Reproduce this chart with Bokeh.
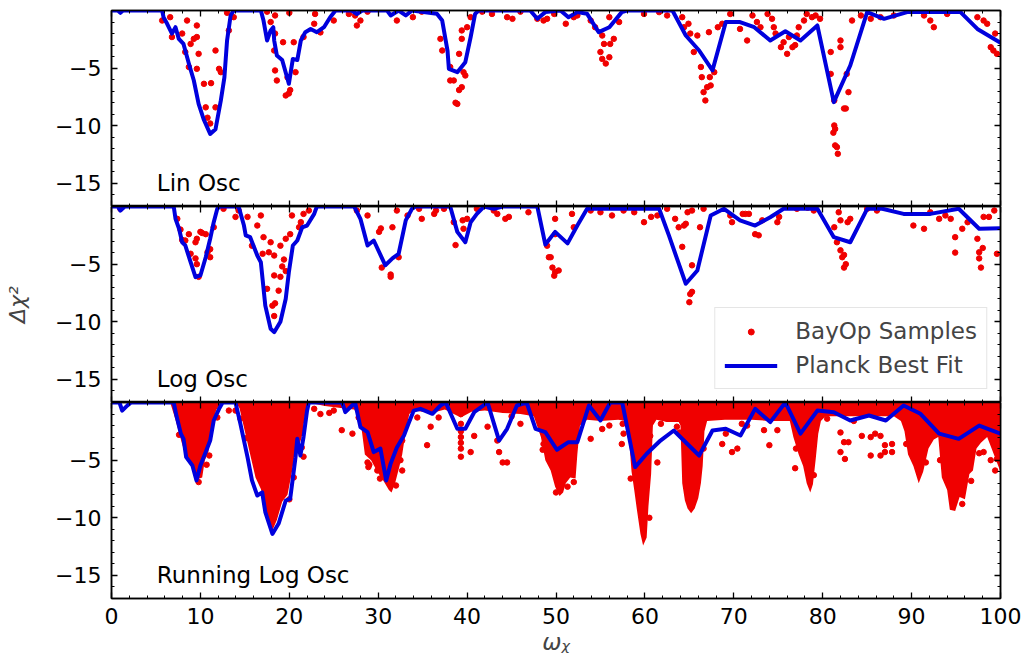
from bokeh.plotting import figure
from bokeh.layouts import column
from bokeh.models import Range1d, LinearAxis, FixedTicker, Legend, LegendItem, Label
from bokeh.embed import file_html
from bokeh.resources import INLINE

# ---------------- data ----------------
x_ticks = [0, 10, 20, 30, 40, 50, 60, 70, 80, 90, 100]
x_minor = list(range(0, 101, 2))
y_ticks = [-15, -10, -5]
y_tick_labels = ["\u221215", "\u221210", "\u22125"]
y_minor = list(range(-17, 1))
panel_names = ["Lin Osc", "Log Osc", "Running Log Osc"]

# Planck best fit curves (omega, delta chi^2)
lin_fit = [(0, 0), (0.7, 0), (1.0, -0.2), (1.3, 0), (5.7, 0), (5.85, -0.58), (6.26, -1.15), (6.8, -2.0),
           (7.2, -1.45), (7.57, -2.46), (8.1, -2.9), (8.7, -4.6), (9.26, -6.07), (9.8, -8.1), (10.4, -9.5),
           (11.1, -10.7), (11.7, -10.3), (12.3, -7.8), (12.7, -5.8), (13.0, -2.6), (13.4, -0.43), (13.75, 0),
           (16.8, 0), (17.1, -0.87), (17.5, -2.6), (17.9, -1.73), (18.2, -1.45), (18.3, -2.6), (18.6, -3.9),
           (19.2, -4.3), (19.95, -6.36), (20.4, -4.2), (20.9, -4.3), (21.3, -2.6), (21.8, -1.88), (22.4, -1.6),
           (23.1, -1.88), (23.9, -1.45), (24.6, -0.58), (25.2, 0), (27.0, 0), (27.6, -0.3), (28.2, 0),
           (31.0, 0), (31.4, -0.43), (32.3, 0), (33.1, -0.43), (33.8, 0), (36.6, -0.29), (37.2, -0.87),
           (37.8, -3.5), (37.95, -5.06), (38.9, -5.35), (39.8, -4.48), (40.4, -2.3), (40.9, -0.29), (41.3, 0),
           (47.1, 0), (47.9, -0.72), (48.8, -0.14), (50.5, 0), (51.4, -0.58), (52.4, -0.14), (53.5, -0.29),
           (54.8, -1.88), (56.0, -1.45), (57.4, -0.14), (58.0, 0), (63.1, 0), (64.6, -2.17), (66.1, -3.47),
           (67.6, -5.2), (69.1, -1.0), (70.7, -1.0), (72.3, -1.45), (74.1, -2.6), (75.8, -1.8), (77.5, -2.6),
           (79.4, -1.3), (81.25, -7.95), (83.1, -4.77), (85.0, -0.14), (86.9, -0.72), (89.5, -0.14),
           (93.3, -0.14), (95.5, -0.14), (97.4, -1.6), (100, -2.8)]

log_fit = [(0, 0), (0.7, 0), (1.0, -0.35), (1.5, 0), (7.0, 0), (7.2, -1.07), (7.6, -1.93), (7.95, -3.1),
           (8.3, -3.38), (8.9, -4.83), (9.45, -6.13), (10.0, -5.98), (10.6, -4.4), (11.1, -2.8), (11.5, -1.36),
           (11.9, -0.2), (12.2, 0), (14.3, 0), (14.9, -1.65), (15.1, -2.5), (15.6, -2.66), (16.4, -4.25),
           (16.8, -4.83), (17.3, -8.6), (17.9, -10.6), (18.3, -10.9), (19.0, -10.0), (19.6, -8.0),
           (19.95, -5.7), (20.4, -3.38), (20.9, -2.95), (21.45, -1.8), (22.0, -1.65), (22.8, -0.64), (23.1, 0),
           (27.3, 0), (28.0, -1.07), (28.8, -3.38), (29.5, -2.95), (30.8, -5.1), (31.6, -4.5), (32.3, -4.1),
           (33.1, -1.2), (33.8, -0.2), (34.2, 0), (38.1, 0), (38.9, -2.2), (39.8, -3.1), (40.4, -1.36),
           (41.1, -0.64), (41.9, 0), (43.0, -0.2), (44.0, 0), (47.9, 0), (48.8, -3.3), (49.9, -2.2),
           (51.3, -3.2), (52.4, -1.65), (53.5, -0.2), (61.6, -0.2), (62.7, -2.5), (63.6, -4.5), (64.6, -6.7),
           (65.9, -5.55), (67.4, -0.78), (68.9, -0.2), (70.7, -1.2), (72.4, -1.65), (74.1, -0.93),
           (75.6, -0.2), (79.4, -0.2), (81.25, -2.66), (83.1, -3.1), (85.0, -0.2), (86.7, -0.2),
           (89.1, -0.64), (92.1, -0.64), (95.3, -0.2), (97.6, -1.93), (100, -1.88)]

run_fit = [(0, 0), (0.9, 0), (1.2, -0.7), (1.8, -0.25), (2.2, 0), (7.0, 0), (7.3, -1.13), (7.8, -2.7),
           (8.1, -3.15), (8.4, -4.74), (9.1, -5.46), (9.56, -6.76), (10.0, -5.46), (10.6, -4.3), (11.1, -3.3),
           (11.5, -1.56), (12.1, -0.55), (12.5, 0), (13.95, 0), (14.5, -1.85), (15.3, -4.74), (15.8, -6.76),
           (16.4, -8.07), (16.95, -7.8), (17.3, -9.5), (18.1, -11.4), (18.8, -10.5), (19.6, -8.5),
           (20.1, -8.35), (20.7, -4.74), (20.9, -3.15), (21.25, -4.6), (21.6, -3.0), (22.0, -0.7), (22.2, 0),
           (25.95, 0), (26.3, -0.84), (27.4, 0), (28.0, -2.14), (28.8, -2.57), (29.5, -4.3), (30.25, -4.0),
           (30.9, -6.76), (31.4, -5.3), (32.1, -3.9), (32.9, -2.86), (33.4, -1.85), (34.0, -0.7),
           (34.76, -0.55), (36.1, -0.98), (37.0, -0.26), (37.6, 0), (38.9, -2.28), (39.8, -2.28),
           (40.8, -0.84), (42.3, 0), (43.6, -3.3), (44.5, -2.28), (45.6, -0.26), (46.7, 0), (47.7, -2.28),
           (48.8, -2.57), (50.1, -4.1), (51.4, -3.44), (52.4, -3.44), (53.7, -0.26), (55.0, -1.56), (56.1, 0),
           (57.45, 0), (58.9, -5.6), (60.2, -4.45), (61.75, -3.3), (63.25, -2.43), (64.75, -3.58),
           (66.1, -4.6), (67.6, -2.43), (69.1, -2.28), (70.75, -2.86), (72.4, -0.55), (74.1, -1.7), (75.8, 0),
           (77.5, -2.7), (79.4, -0.7), (81.25, -0.84), (83.1, -1.56), (85.2, -1.13), (87.1, -1.56),
           (89.1, -0.26), (91.0, -0.98), (93.1, -2.7), (95.3, -3.15), (97.6, -2.0), (100, -2.7)]

# BayOp samples (omega, delta chi^2)
lin_samples = [(5.7, -0.87), (6.6, -0.58), (6.8, -2.3), (7.95, -2.0), (8.5, -0.87), (8.3, -3.6), (8.7, -4.9),
               (8.9, -2.9), (9.26, -2.46), (9.6, -1.3), (9.6, -2.3), (9.8, -3.76), (9.6, -5.06), (10.4, -6.36),
               (11.2, -6.3), (10.6, -8.4), (10.8, -9.3), (11.1, -9.8), (11.7, -3.47), (11.7, -8.4), (12.1, -5.06),
               (12.3, -5.35), (13.2, -1.73), (13.0, -0.2), (13.75, -0.58), (17.5, -0.1), (17.9, -1.0),
               (18.4, -0.43), (18.4, -2.0), (18.3, -3.47), (18.4, -5.2), (18.6, -6.07), (19.3, -2.75),
               (19.6, -7.37), (19.95, -7.2), (20.1, -6.9), (19.8, -5.8), (20.5, -2.75), (20.7, -5.35),
               (20.0, -0.2), (21.6, -2.3), (22.9, -0.3), (22.8, -1.15), (23.5, -1.9), (25.0, -0.87),
               (26.7, -0.3), (27.4, -0.43), (27.6, -1.3), (28.0, -0.87), (28.8, -0.1), (32.1, -0.87),
               (33.9, -0.58), (34.9, -0.1), (37.0, -2.46), (37.2, -3.47), (38.1, -4.9), (38.1, -6.07),
               (38.5, -6.07), (38.9, -8.1), (38.7, -8.0), (39.1, -6.9), (39.4, -6.65), (39.1, -3.76),
               (39.4, -2.46), (39.4, -1.73), (39.6, -5.35), (39.8, -5.64), (40.0, -1.45), (40.4, -0.58),
               (41.7, -0.1), (42.8, -0.3), (44.5, -0.58), (45.1, -0.72), (46.0, -0.1), (47.9, -0.72),
               (49.0, -0.72), (49.8, -0.3), (48.6, -0.87), (51.1, -1.15), (52.0, -0.58), (52.4, -0.43),
               (53.9, -0.87), (54.4, -1.45), (55.2, -2.17), (55.4, -2.9), (55.0, -3.6), (55.2, -4.2),
               (55.6, -4.6), (56.0, -4.05), (56.1, -2.9), (56.5, -2.46), (56.0, -0.58), (57.1, -1.0),
               (59.9, -0.3), (61.6, -0.14), (62.5, -0.43), (64.2, -0.58), (64.4, -1.45), (64.9, -1.15),
               (65.1, -2.0), (65.5, -3.6), (65.9, -2.17), (66.3, -4.9), (66.4, -5.78), (66.6, -7.08),
               (66.8, -7.8), (67.0, -6.65), (67.4, -6.5), (67.3, -5.78), (67.8, -5.35), (67.2, -1.88),
               (68.2, -1.45), (68.7, -1.15), (69.6, -0.3), (70.7, -1.6), (71.5, -2.6), (72.1, -0.43),
               (72.6, -1.0), (73.0, -1.45), (73.8, -0.3), (74.3, -0.72), (74.5, -1.45), (74.7, -2.0),
               (75.3, -3.18), (75.6, -2.75), (76.0, -3.76), (76.2, -2.3), (76.6, -3.18), (76.9, -3.0),
               (77.1, -2.17), (77.3, -1.45), (77.9, -0.87), (78.2, -0.3), (78.8, -0.58), (79.2, -0.43),
               (79.7, -0.72), (80.9, -3.6), (80.9, -5.5), (81.3, -7.8), (81.3, -9.97), (81.4, -10.27),
               (81.2, -10.6), (81.6, -11.85), (81.4, -11.7), (81.7, -12.43), (82.0, -2.6), (82.0, -3.18),
               (82.4, -8.5), (82.6, -8.5), (82.7, -5.5), (82.9, -7.08), (83.3, -0.87), (84.3, -0.43),
               (85.4, -0.72), (86.5, -0.58), (88.0, -0.43), (91.4, -0.43), (92.1, -0.87), (92.5, -1.45),
               (94.0, -0.3), (97.4, -0.58), (98.1, -0.87), (98.5, -1.15), (98.9, -3.18), (99.2, -3.47),
               (99.6, -3.76), (99.4, -2.0)]

log_samples = [(1.0, -0.2), (7.4, -1.07), (7.76, -2.0), (7.95, -2.9), (8.3, -2.95), (8.7, -2.4), (8.9, -4.1),
               (9.45, -4.5), (9.45, -3.1), (9.6, -2.8), (9.6, -5.0), (9.8, -6.1), (10.0, -2.2), (10.2, -2.3),
               (10.6, -2.4), (10.8, -3.97), (11.1, -4.4), (11.5, -1.8), (11.1, -3.7), (12.6, -0.2),
               (13.95, -0.9), (14.3, -0.35), (15.3, -0.9), (15.8, -3.4), (16.4, -1.65), (16.8, -0.78),
               (17.1, -2.66), (17.0, -4.1), (17.5, -7.14), (17.7, -3.97), (17.9, -3.1), (18.3, -4.25),
               (18.3, -5.98), (18.1, -8.6), (18.3, -9.5), (18.4, -8.4), (18.8, -7.3), (19.0, -6.1),
               (19.2, -5.2), (19.4, -4.6), (19.6, -5.6), (19.6, -2.8), (20.1, -2.4), (19.0, -3.4),
               (20.3, -0.78), (21.1, -1.8), (21.3, -1.36), (21.6, -0.64), (22.2, -0.35), (27.6, -0.35),
               (28.8, -0.78), (30.1, -2.2), (30.3, -1.9), (30.4, -5.3), (31.4, -5.9), (31.4, -6.1),
               (31.6, -1.8), (32.3, -4.4), (32.1, -0.35), (33.3, -0.78), (34.9, -1.07), (34.6, -0.2),
               (36.3, -0.64), (36.5, -0.35), (37.4, -0.2), (38.5, -1.36), (38.7, -3.35), (39.5, -1.2),
               (39.6, -1.93), (40.0, -1.07), (41.1, -0.2), (43.0, -0.35), (43.4, -0.64), (44.3, -1.07),
               (44.7, -0.9), (46.9, -0.5), (49.0, -3.4), (49.4, -4.4), (49.6, -5.3), (49.8, -6.0),
               (49.2, -4.4), (49.9, -5.7), (50.3, -5.55), (49.9, -1.07), (49.9, -2.4), (51.8, -0.64),
               (52.0, -1.8), (53.9, -0.35), (55.0, -0.5), (56.3, -0.78), (57.6, -0.35), (58.8, -0.5),
               (59.9, -1.36), (60.7, -0.9), (61.4, -0.78), (62.5, -0.2), (63.4, -1.07), (63.8, -1.8),
               (64.2, -3.5), (64.4, -1.65), (64.6, -1.5), (65.3, -5.1), (65.1, -7.6), (65.0, -8.3),
               (65.3, -7.4), (64.8, -0.5), (65.3, -0.35), (66.2, -1.8), (66.6, -0.2), (69.6, -0.78),
               (69.8, -1.36), (71.0, -0.64), (71.3, -0.64), (71.7, -0.64), (72.4, -2.4), (72.8, -2.5),
               (73.2, -1.2), (74.9, -1.36), (75.1, -0.9), (77.1, -0.2), (78.3, -0.1), (79.0, -0.35),
               (81.3, -1.8), (81.6, -3.1), (82.0, -3.8), (82.2, -4.4), (82.4, -4.2), (82.4, -5.3),
               (82.6, -5.0), (81.8, -0.5), (82.0, -1.2), (82.8, -1.36), (83.1, -1.07), (85.0, -0.2),
               (86.1, -0.35), (90.2, -1.65), (91.4, -1.93), (92.1, -0.5), (93.1, -1.07), (93.8, -0.78),
               (94.4, -1.07), (94.9, -2.66), (94.9, -4.0), (95.7, -1.93), (96.3, -1.36), (97.4, -2.8),
               (97.6, -3.97), (97.6, -4.5), (97.8, -5.3), (98.0, -3.6), (98.1, -0.9), (98.7, -0.9),
               (99.6, -4.1), (99.3, -0.35)]

# Running log osc: lower edge of the densely sampled cloud, plus individual outlying samples
run_dense_edge = [(0, 0), (6.6, 0), (7.2, -1.5), (7.9, -3.5), (8.5, -5.0), (9.0, -5.5), (9.5, -6.7), (10.2, -6.5),
                  (10.5, -5.0), (10.9, -4.3), (11.3, -2.0), (11.8, -0.6), (12.4, 0), (14.0, 0), (14.4, -0.5),
                  (15.0, -2.5), (15.6, -4.5), (16.2, -6.5), (16.8, -7.5), (17.3, -9.0), (17.8, -10.6),
                  (18.1, -11.1), (18.6, -10.2), (19.2, -8.6), (19.8, -8.0), (20.3, -6.0), (20.6, -4.5),
                  (21.0, -4.0), (21.4, -3.0), (21.8, -1.0), (22.1, 0), (24.0, -0.3), (26.0, -0.5), (27.3, -0.6),
                  (28.0, -1.5), (28.5, -4.5), (29.2, -5.0), (29.9, -6.0), (30.6, -6.8), (31.2, -7.6), (31.5, -7.8),
                  (31.9, -7.0), (32.4, -5.5), (32.7, -4.5), (33.1, -2.5), (33.5, -1.0), (34.0, -0.7),
                  (36.0, -0.9), (37.5, -0.6), (38.5, -1.0), (39.3, -1.3), (40.5, -0.8), (42.0, -0.7),
                  (44.0, -0.9), (46.0, -1.0), (47.5, -1.2), (48.3, -3.0), (48.8, -5.0), (49.4, -5.9),
                  (49.9, -7.3), (50.4, -8.1), (50.8, -7.8), (51.1, -7.0), (51.6, -6.5), (52.2, -6.6),
                  (52.4, -4.5), (52.7, -2.0), (53.5, -1.5), (55.0, -1.6), (57.0, -1.5), (57.9, -1.6),
                  (58.3, -4.0), (58.5, -6.0), (58.8, -7.6), (59.1, -9.3), (59.5, -11.4), (59.8, -12.4),
                  (60.2, -11.7), (60.4, -9.0), (60.7, -6.2), (60.9, -2.0), (61.3, -1.5), (62.5, -1.7),
                  (63.8, -1.7), (64.0, -2.0), (64.1, -4.5), (64.2, -7.0), (64.5, -8.5), (64.8, -9.2),
                  (65.2, -9.6), (65.6, -9.2), (66.0, -8.3), (66.3, -7.0), (66.5, -5.5), (66.7, -2.5),
                  (67.0, -1.6), (69.0, -1.5), (72.0, -1.5), (74.0, -1.6), (76.3, -1.6), (76.7, -3.0),
                  (77.3, -4.5), (77.8, -5.5), (78.2, -7.0), (78.6, -7.8), (78.9, -7.1), (79.2, -5.0),
                  (79.5, -2.7), (79.8, -1.6), (80.3, -1.2), (82.0, -1.2), (85.0, -1.2), (88.0, -1.2),
                  (88.8, -1.6), (89.2, -2.5), (89.6, -4.5), (90.2, -5.5), (90.8, -7.0), (91.3, -6.0),
                  (91.9, -4.0), (92.5, -3.2), (93.0, -3.0), (93.4, -6.5), (94.0, -7.6), (94.3, -9.3),
                  (94.9, -9.4), (95.4, -8.2), (96.0, -8.4), (96.5, -6.2), (96.9, -5.9), (97.3, -4.0),
                  (97.8, -3.5), (98.5, -3.0), (99.0, -4.0), (99.5, -5.0), (100, -6.0)]

run_samples = [(8.7, -0.69), (8.9, -1.7), (11.1, -1.0), (11.9, -1.3), (13.2, -0.7), (13.95, -0.7), (14.5, -1.4),
               (15.3, -2.1), (15.8, -2.7), (16.0, -3.9), (16.4, -4.7), (16.8, -5.9), (17.1, -6.8), (19.2, -0.7),
               (21.3, -2.4), (21.4, -3.9), (21.6, -4.7), (22.8, -0.55), (23.5, -1.0), (25.0, -0.7),
               (25.9, -2.4), (27.1, -2.7), (27.8, -1.3), (28.8, -5.2), (28.9, -5.6), (29.9, -5.9),
               (31.8, -4.2), (32.5, -5.0), (32.7, -5.9), (32.7, -3.3), (34.4, -1.3), (35.5, -3.7),
               (35.9, -2.1), (39.3, -1.0), (39.3, -1.85), (39.3, -2.5), (39.3, -3.0), (39.3, -3.5),
               (39.3, -4.0), (39.3, -4.7), (40.4, -4.3), (40.8, -2.9), (42.3, -2.1), (43.4, -3.3),
               (43.6, -4.3), (44.0, -5.2), (44.5, -5.2), (46.0, -1.85), (48.6, -3.6), (53.9, -3.15),
               (55.2, -2.3), (57.5, -1.85), (57.6, -2.7), (57.4, -3.6), (58.96, -2.7), (59.5, -3.6),
               (60.5, -2.0), (60.6, -2.9), (61.4, -5.2), (61.8, -1.85), (62.5, -1.4), (63.6, -2.1),
               (68.7, -3.6), (69.1, -2.7), (69.8, -4.3), (70.4, -4.0), (70.9, -1.85), (73.4, -2.4),
               (74.0, -3.7), (74.9, -2.4), (76.9, -5.7), (80.5, -1.4), (82.0, -2.6), (82.4, -3.44),
               (82.9, -3.44), (82.0, -4.3), (82.5, -4.9), (84.4, -2.9), (85.4, -3.0), (85.9, -2.7),
               (86.5, -2.9), (87.0, -3.7), (87.8, -3.6), (87.0, -4.3), (87.8, -4.3), (85.4, -4.6),
               (86.5, -4.6), (98.1, -4.3), (98.9, -5.0), (99.4, -5.9), (99.6, -4.9),
               (7.6, -2.8), (9.8, -6.9), (10.7, -5.4), (11.0, -4.6), (15.1, -3.1), (20.0, -8.4),
               (20.5, -6.5), (29.0, -5.4), (30.2, -6.6), (32.0, -7.2), (48.5, -4.1), (50.0, -7.8),
               (51.3, -7.3), (52.0, -6.9), (58.4, -6.6), (60.5, -10.0), (63.9, -2.6), (66.6, -4.0),
               (77.0, -4.0), (79.0, -6.3), (89.4, -3.6), (91.6, -5.2), (93.2, -5.0), (95.7, -8.8),
               (96.7, -6.8), (97.6, -4.4), (24.5, -0.9), (36.8, -1.3), (45.0, -1.2), (56.0, -2.0),
               (71.5, -2.0), (83.5, -1.6)]

# ---------------- style ----------------
RED = "#f00000"
BLUE = "#0000dd"
FONT = "DejaVu Sans"
xr = Range1d(0, 100)


def xs(pairs):
    return [p[0] for p in pairs]


def ys(pairs):
    return [p[1] for p in pairs]


def style_axis(ax, show_labels):
    ax.major_tick_in = 6
    ax.major_tick_out = 0
    ax.minor_tick_in = 3
    ax.minor_tick_out = 0
    ax.major_tick_line_width = 1.3
    ax.minor_tick_line_width = 1.0
    ax.major_tick_line_color = "black"
    ax.minor_tick_line_color = "black"
    ax.axis_line_width = 1.5
    ax.axis_line_color = "black"
    ax.major_label_text_font = FONT
    if show_labels:
        ax.major_label_text_color = "black"
        ax.major_label_text_font_size = "22px"
        ax.major_label_standoff = 9
    else:
        ax.major_label_text_color = None
        ax.major_label_text_alpha = 0
        ax.major_label_text_font_size = "1px"
        ax.major_label_standoff = 0


def make_panel(top, bottom, xlabels, ylabel=None):
    p = figure(frame_width=889, frame_height=196, x_range=xr, y_range=Range1d(-17, 0),
               output_backend="svg", toolbar_location=None,
               x_axis_location=None, y_axis_location=None,
               min_border_left=111, min_border_right=24, min_border_top=top, min_border_bottom=bottom)
    p.grid.grid_line_color = None
    p.outline_line_color = "black"
    p.outline_line_width = 1.5
    p.background_fill_color = "white"
    p.border_fill_color = "white"

    left = LinearAxis(ticker=FixedTicker(ticks=y_ticks, minor_ticks=y_minor))
    style_axis(left, True)
    left.major_label_overrides = {t: l for t, l in zip(y_ticks, y_tick_labels)}
    left.major_label_standoff = 10
    if ylabel:
        left.axis_label = ylabel
        left.axis_label_text_font = FONT
        left.axis_label_text_font_size = "22px"
        left.axis_label_text_font_style = "italic"
        left.axis_label_standoff = 22
    p.add_layout(left, "left")

    right = LinearAxis(ticker=FixedTicker(ticks=y_ticks, minor_ticks=y_minor))
    style_axis(right, False)
    p.add_layout(right, "right")

    top_ax = LinearAxis(ticker=FixedTicker(ticks=x_ticks, minor_ticks=x_minor))
    style_axis(top_ax, False)
    p.add_layout(top_ax, "above")

    bottom_ax = LinearAxis(ticker=FixedTicker(ticks=x_ticks, minor_ticks=x_minor))
    style_axis(bottom_ax, xlabels)
    if xlabels:
        bottom_ax.axis_label = "\u03c9\u1d6a"
        bottom_ax.axis_label_text_font = FONT
        bottom_ax.axis_label_text_font_size = "23px"
        bottom_ax.axis_label_text_font_style = "italic"
        bottom_ax.axis_label_standoff = 2
    p.add_layout(bottom_ax, "below")
    return p


p1 = make_panel(10, 0, False)
p2 = make_panel(0, 0, False, ylabel="\u0394\u03c7\u00b2")
p3 = make_panel(0, 60, True)

# panel 1
p1.scatter(xs(lin_samples), ys(lin_samples), size=5.5, color=RED)
p1.line(xs(lin_fit), ys(lin_fit), line_width=4, color=BLUE, line_join="round")

# panel 2
r_s = p2.scatter(xs(log_samples), ys(log_samples), size=5.5, color=RED)
r_l = p2.line(xs(log_fit), ys(log_fit), line_width=4, color=BLUE, line_join="round")

# panel 3
p3.varea(x=xs(run_dense_edge), y1=ys(run_dense_edge), y2=[0] * len(run_dense_edge), fill_color=RED)
p3.scatter(xs(run_samples), ys(run_samples), size=5.5, color=RED)
p3.line(xs(run_fit), ys(run_fit), line_width=4, color=BLUE, line_join="round")

for p, name in zip([p1, p2, p3], panel_names):
    p.add_layout(Label(x=5.1, y=-14.95, text=name, text_font=FONT, text_font_size="23px",
                       text_color="black", text_baseline="middle"))

legend = Legend(items=[LegendItem(label="BayOp Samples", renderers=[r_s]),
                       LegendItem(label="Planck Best Fit", renderers=[r_l])],
                location="bottom_right", margin=13, padding=9, spacing=6,
                label_text_font=FONT, label_text_font_size="23px", label_standoff=18,
                glyph_width=53, glyph_height=15, label_height=28,
                border_line_color="#cccccc", border_line_width=1.5,
                background_fill_color="white", background_fill_alpha=0.8)
p2.add_layout(legend)

layout = column(p1, p2, p3, spacing=0)
open("out.html", "w").write(file_html(layout, INLINE))
